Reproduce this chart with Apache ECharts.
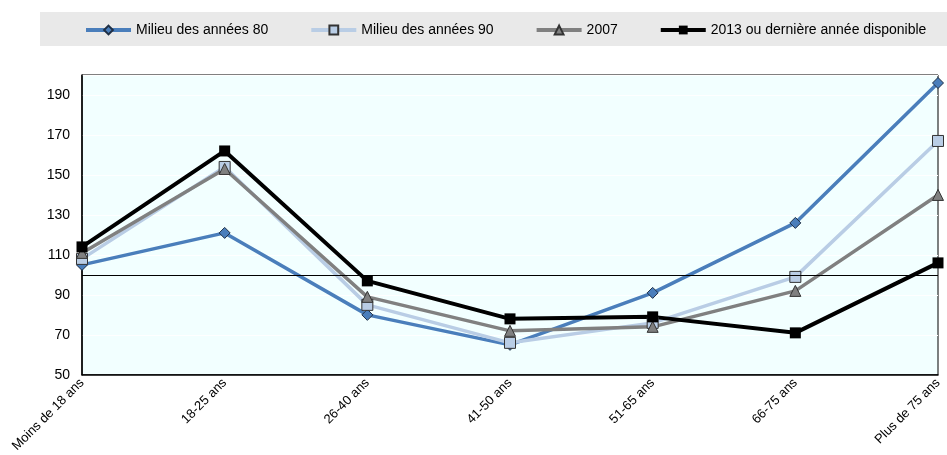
<!DOCTYPE html>
<html>
<head>
<meta charset="utf-8">
<script src="https://cdn.jsdelivr.net/npm/echarts@6/dist/echarts.min.js"></script>
<style>
    html, body { margin: 0; padding: 0; background: #fff; }
    #chart { width: 947px; height: 455px; }
</style>
</head>
<body>
<div id="chart"></div>
<script>
// données
const categories = ['Moins de 18 ans', '18-25 ans', '26-40 ans', '41-50 ans', '51-65 ans', '66-75 ans', 'Plus de 75 ans'];
const milieu80 = [105, 121, 80, 65, 91, 126, 196];
const milieu90 = [108, 154, 85, 66, 76, 99, 167];
const an2007 = [111, 153, 89, 72, 74, 92, 140];
const an2013 = [114, 162, 97, 78, 79, 71, 106];
const seriesNames = ['Milieu des années 80', 'Milieu des années 90', '2007', '2013 ou dernière année disponible'];

const FONT = "'Liberation Sans Narrow', 'Liberation Sans', Arial, sans-serif";

function makeSeries(name, data, color, symbol, size, border, width) {
    return {
        name: name,
        type: 'line',
        data: data,
        symbol: symbol,
        symbolSize: size,
        showAllSymbol: true,
        lineStyle: { color: color, width: width },
        itemStyle: { color: color, borderColor: border, borderWidth: border ? 1 : 0 },
        emphasis: { disabled: true },
        animation: false
    };
}

const series = [
    makeSeries(seriesNames[0], milieu80, '#4a7ebb', 'diamond', 11, '#1f2f45', 3.5),
    makeSeries(seriesNames[1], milieu90, '#b9cde5', 'rect', 11, '#333', 3.5),
    makeSeries(seriesNames[2], an2007, '#808080', 'triangle', 11, '#333', 3.5),
    makeSeries(seriesNames[3], an2013, '#000000', 'rect', 11, null, 4)
];
series[3].markLine = {
    silent: true,
    symbol: 'none',
    label: { show: false },
    lineStyle: { color: '#000', width: 1, type: 'solid' },
    data: [{ yAxis: 100 }]
};

const option = {
    backgroundColor: '#fff',
    animation: false,
    textStyle: { fontFamily: FONT },
    graphic: [{
        type: 'rect',
        left: 40, top: 12,
        shape: { width: 907, height: 34 },
        style: { fill: '#e9e9e9' },
        z: -1
    }],
    legend: {
        left: 79,
        top: 18,
        width: 880,
        itemWidth: 45,
        itemHeight: 11,
        itemGap: 41,
        lineStyle: { width: 4 },
        textStyle: { fontFamily: FONT, fontSize: 14, color: '#000' },
        data: seriesNames
    },
    grid: {
        left: 82, right: 9, top: 75, bottom: 79,
        show: true,
        backgroundColor: '#f2ffff',
        borderColor: '#000',
        borderWidth: 1
    },
    xAxis: {
        type: 'category',
        data: categories,
        boundaryGap: false,
        axisLine: { lineStyle: { color: '#000', width: 1.5 } },
        axisTick: { show: false },
        axisLabel: { rotate: 45, fontFamily: FONT, fontSize: 13, color: '#000', margin: 6, interval: 0 },
        splitLine: { show: false }
    },
    yAxis: {
        type: 'value',
        min: 50,
        max: 200,
        interval: 20,
        axisLine: { show: true, lineStyle: { color: '#000', width: 1.5 } },
        axisTick: { show: false },
        axisLabel: { showMaxLabel: false, fontFamily: FONT, fontSize: 14, color: '#000', margin: 12 },
        splitLine: { show: true, lineStyle: { color: '#ffffff', width: 1 } }
    },
    series: series
};

const myChart = echarts.init(document.querySelector('#chart'));
myChart.setOption(option);
</script>
</body>
</html>
